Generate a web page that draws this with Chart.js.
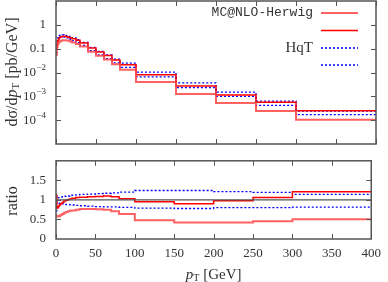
<!DOCTYPE html>
<html lang="en">
<head>
<meta charset="UTF-8">
<title>Higgs pT: MC@NLO-Herwig vs HqT</title>
<script src="https://cdn.jsdelivr.net/npm/chart.js"></script>
<style>
  body { margin: 0; background: #fff; }
  #wrap { position: relative; width: 388px; height: 282px; }
  canvas { position: absolute; left: 0; }
  #topChart { top: 0; }
  #ratioChart { top: 143px; }
</style>
</head>
<body>
<div id="wrap">
  <canvas id="topChart" width="388" height="146"></canvas>
  <canvas id="ratioChart" width="388" height="139"></canvas>
</div>
<script>
  // bin edges in pT [GeV]
  const edges = [0, 1, 2, 3, 4, 5, 6, 8, 10, 12.5, 15, 17.5, 20, 25, 30, 40, 50, 60, 70, 80, 100, 150, 200, 250, 300, 400];

  // dsigma/dpT [pb/GeV], one value per bin
  const hqtUp  = [0.099, 0.21, 0.284, 0.329, 0.35, 0.369, 0.375, 0.378, 0.371, 0.352, 0.33, 0.311, 0.28, 0.237, 0.182, 0.113, 0.077, 0.055, 0.0366, 0.0245, 0.0104, 0.0037, 0.0015, 0.00063, 0.00024];
  const hqtLow = [0.065, 0.188, 0.251, 0.285, 0.30, 0.314, 0.315, 0.315, 0.303, 0.282, 0.264, 0.245, 0.218, 0.181, 0.136, 0.082, 0.055, 0.0385, 0.0254, 0.0165, 0.0066, 0.00234, 0.00099, 0.00042, 0.00017];
  const mcUp   = [0.10, 0.158, 0.216, 0.257, 0.284, 0.304, 0.319, 0.329, 0.33, 0.317, 0.303, 0.286, 0.26, 0.223, 0.171, 0.106, 0.072, 0.052, 0.0335, 0.021, 0.008, 0.0027, 0.00115, 0.00056, 0.00025];
  const mcLow  = [0.054, 0.116, 0.155, 0.18, 0.195, 0.207, 0.217, 0.224, 0.228, 0.221, 0.213, 0.202, 0.183, 0.156, 0.122, 0.075, 0.05, 0.035, 0.022, 0.013, 0.004, 0.00126, 0.00052, 0.00024, 0.000105];

  // ratios, one value per bin
  const ratioMcUp   = [1.12, 0.79, 0.8, 0.83, 0.86, 0.88, 0.91, 0.94, 0.97, 0.99, 1.01, 1.02, 1.04, 1.06, 1.07, 1.08, 1.09, 1.1, 1.08, 1.03, 0.95, 0.9, 0.98, 1.06, 1.21];
  const ratioMcLow  = [0.6, 0.58, 0.575, 0.58, 0.59, 0.6, 0.62, 0.64, 0.67, 0.69, 0.71, 0.72, 0.73, 0.745, 0.765, 0.77, 0.76, 0.745, 0.71, 0.64, 0.48, 0.42, 0.42, 0.456, 0.505];
  const ratioHqtUp  = [1.1, 1.05, 1.05, 1.06, 1.06, 1.07, 1.07, 1.08, 1.09, 1.1, 1.1, 1.11, 1.12, 1.13, 1.14, 1.15, 1.16, 1.17, 1.18, 1.2, 1.24, 1.24, 1.21, 1.19, 1.14];
  const ratioHqtLow = [0.72, 0.94, 0.93, 0.92, 0.91, 0.91, 0.9, 0.9, 0.89, 0.88, 0.88, 0.875, 0.87, 0.86, 0.85, 0.84, 0.83, 0.82, 0.82, 0.81, 0.79, 0.78, 0.8, 0.8, 0.815];
  const refX = [0, 400];
  const refRatio = [1, 1];

  const xTicks = [0, 50, 100, 150, 200, 250, 300, 350, 400];
  const yTicksTop = [1e-4, 1e-3, 1e-2, 0.1, 1];
  const yTicksRatio = [0, 0.5, 1, 1.5, 2];

  const SERIF = '"Liberation Serif", "DejaVu Serif", serif';
  const MONO = '"Liberation Mono", "DejaVu Sans Mono", monospace';
  const TXT = '#333';
  const AXIS = '#555';

  const RED_LIGHT = 'rgba(255,70,70,0.85)';
  const RED = '#ff0000';
  const BLUE = '#0000ff';

  function steps(vals) {
    return edges.map((e, i) => ({ x: e, y: vals[Math.min(i, vals.length - 1)] }));
  }

  function ds(label, vals, color, width, dash) {
    return {
      label, data: steps(vals), borderColor: color, borderWidth: width,
      borderDash: dash || [], stepped: true, pointRadius: 0, fill: false
    };
  }

  // draw a sequence of text pieces (font / vertical shift) centred at x
  function richText(ctx, parts, x, y) {
    let w = 0;
    parts.forEach(p => { ctx.font = p.font; w += ctx.measureText(p.t).width; });
    let cx = x - w / 2;
    ctx.textBaseline = 'middle';
    ctx.textAlign = 'left';
    parts.forEach(p => {
      ctx.font = p.font;
      ctx.fillText(p.t, cx, y + (p.dy || 0));
      cx += ctx.measureText(p.t).width;
    });
  }

  // frame + inward ticks on all four sides
  const framePlugin = {
    id: 'frame',
    afterDatasetsDraw(chart, args, opts) {
      const { ctx, chartArea: a } = chart;
      const xs = chart.scales.x, ys = chart.scales.y;
      ctx.save();
      ctx.strokeStyle = AXIS;
      ctx.lineWidth = 1;
      xTicks.forEach(v => {
        const px = Math.round(xs.getPixelForValue(v)) + 0.5;
        ctx.beginPath();
        ctx.moveTo(px, a.top); ctx.lineTo(px, a.top + 5);
        ctx.moveTo(px, a.bottom); ctx.lineTo(px, a.bottom - 5);
        ctx.stroke();
      });
      opts.yTicks.forEach(v => {
        const py = Math.round(ys.getPixelForValue(v)) + 0.5;
        ctx.beginPath();
        ctx.moveTo(a.left, py); ctx.lineTo(a.left + 5, py);
        ctx.moveTo(a.right, py); ctx.lineTo(a.right - 5, py);
        ctx.stroke();
      });
      ctx.lineWidth = 1.5;
      ctx.strokeRect(a.left, a.top, a.right - a.left, a.bottom - a.top);

      ctx.fillStyle = TXT;
      if (opts.logLabels) {
        opts.yTicks.forEach(v => {
          const py = ys.getPixelForValue(v);
          const e = Math.round(Math.log10(v));
          ctx.textBaseline = 'middle';
          ctx.textAlign = 'right';
          if (e === 0 || e === -1) {
            ctx.font = '13px ' + SERIF;
            ctx.fillText(e === 0 ? '1' : '0.1', a.left - 10, py);
          } else {
            ctx.font = '9px ' + SERIF;
            const sup = '\u2212' + Math.abs(e);
            const sw = ctx.measureText(sup).width;
            ctx.fillText(sup, a.left - 10, py - 5);
            ctx.font = '13px ' + SERIF;
            ctx.fillText('10', a.left - 10 - sw - 0.5, py);
          }
        });
      }
      // y title, rotated
      ctx.save();
      ctx.translate(13, opts.yTitleY);
      ctx.rotate(-Math.PI / 2);
      richText(ctx, opts.yTitle, 0, 0);
      ctx.restore();
      if (opts.xTitle) richText(ctx, opts.xTitle, (a.left + a.right) / 2, opts.xTitleY);
      ctx.restore();
    }
  };

  // legend in the upper right of the top panel
  const legendPlugin = {
    id: 'sideLegend',
    afterDatasetsDraw(chart, args, opts) {
      if (!opts.show) return;
      const { ctx } = chart;
      ctx.save();
      chart.data.datasets.forEach((d, i) => {
        const y = opts.rows[i];
        ctx.strokeStyle = d.borderColor;
        ctx.lineWidth = d.borderWidth;
        ctx.setLineDash(d.borderDash);
        ctx.beginPath();
        ctx.moveTo(321, y); ctx.lineTo(358, y);
        ctx.stroke();
        ctx.setLineDash([]);
        if (d.label) {
          ctx.fillStyle = TXT;
          ctx.textAlign = 'right';
          ctx.textBaseline = 'middle';
          ctx.font = d.label.startsWith('MC') ? '13px ' + MONO : '15px ' + SERIF;
          ctx.fillText(d.label, 313, y);
        }
      });
      ctx.restore();
    }
  };

  const topDatasets = [
    ds('MC@NLO-Herwig', mcLow, RED_LIGHT, 2),
    ds('', mcUp, RED, 1.5),
    ds('HqT', hqtUp, BLUE, 1.3, [2, 2]),
    ds('', hqtLow, BLUE, 1.3, [2, 2])
  ];

  new Chart(document.getElementById('topChart'), {
    type: 'line',
    data: { datasets: topDatasets },
    options: {
      responsive: false, animation: false, devicePixelRatio: 1,
      layout: { padding: { left: 56, right: 12, top: 1, bottom: 2 } },
      scales: {
        x: { type: 'linear', min: 0, max: 400, display: false },
        y: { type: 'logarithmic', min: 1e-5, max: 10, display: false }
      },
      plugins: {
        legend: { display: false }, tooltip: { enabled: false },
        frame: {
          yTicks: yTicksTop, logLabels: true, yTitleY: 72,
          yTitle: [
            { t: 'd\u03C3/d', font: '16px ' + SERIF },
            { t: 'p', font: 'italic 16px ' + SERIF },
            { t: 'T', font: '11px ' + SERIF, dy: 3 },
            { t: ' [pb/GeV]', font: '16px ' + SERIF }
          ]
        },
        sideLegend: { show: true, rows: [13, 30.5, 48, 65] }
      }
    },
    plugins: [framePlugin, legendPlugin]
  });

  new Chart(document.getElementById('ratioChart'), {
    type: 'line',
    data: {
      datasets: [
        { label: 'ref', data: refX.map((x, i) => ({ x, y: refRatio[i] })), borderColor: AXIS, borderWidth: 1.3, pointRadius: 0 },
        ds('MC@NLO-Herwig', ratioMcLow, RED_LIGHT, 2),
        ds('', ratioMcUp, RED, 1.5),
        ds('HqT', ratioHqtUp, BLUE, 1.3, [2, 2]),
        ds('', ratioHqtLow, BLUE, 1.3, [2, 2])
      ]
    },
    options: {
      responsive: false, animation: false, devicePixelRatio: 1,
      layout: { padding: { left: 0, right: 12, top: 1, bottom: 0 } },
      scales: {
        x: {
          type: 'linear', min: 0, max: 400,
          afterBuildTicks: s => { s.ticks = xTicks.map(v => ({ value: v })); },
          afterFit: s => { s.height = 43; },
          grid: { display: false, drawTicks: false }, border: { display: false },
          ticks: { padding: 7, maxRotation: 0, autoSkip: false, color: TXT, font: { family: SERIF, size: 13 } }
        },
        y: {
          type: 'linear', min: 0, max: 2,
          afterBuildTicks: s => { s.ticks = yTicksRatio.map(v => ({ value: v })); },
          afterFit: s => { s.width = 56; },
          grid: { display: false, drawTicks: false }, border: { display: false },
          ticks: { padding: 10, color: TXT, font: { family: SERIF, size: 13 },
                   callback: v => (v === 2 ? '' : String(v)) }
        }
      },
      plugins: {
        legend: { display: false }, tooltip: { enabled: false },
        frame: {
          yTicks: yTicksRatio.slice(1, -1), logLabels: false, yTitleY: 58,
          yTitle: [{ t: 'ratio', font: '16px ' + SERIF }],
          xTitleY: 132,
          xTitle: [
            { t: 'p', font: 'italic 15px ' + SERIF },
            { t: 'T', font: '10px ' + SERIF, dy: 3 },
            { t: ' [GeV]', font: '15px ' + SERIF }
          ]
        }
      }
    },
    plugins: [framePlugin]
  });
</script>
</body>
</html>
